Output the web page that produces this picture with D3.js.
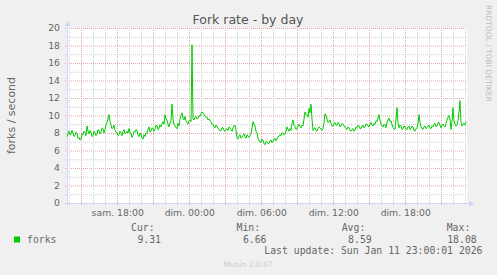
<!DOCTYPE html>
<html><head><meta charset="utf-8">
<script src="https://cdn.jsdelivr.net/npm/d3@7"></script>
<style>
html,body{margin:0;padding:0;background:#f0f0f0;}
svg{display:block;}
</style></head>
<body>
<svg id="chart" width="497" height="275"></svg>
<script>
// ---- data ----
const title = "Fork rate - by day";
const yAxisTitle = "forks / second";
const seriesName = "forks";
const startTime = "2026-01-10T13:48:40Z";
const endTime = "2026-01-11T23:08:40Z";
const stepSeconds = 300;
const forks = [
  7.6, 7.9, 8.2, 7.8, 7.9, 8.3, 8.0, 7.6, 7.7, 8.1, 7.9, 7.4, 7.5, 7.2, 7.3, 7.9, 7.8, 8.2, 8.1, 7.7,
  8.8, 8.2, 7.9, 8.3, 8.1, 7.6, 7.7, 8.2, 8.0, 7.7, 7.9, 8.4, 8.3, 7.9, 8.1, 8.6, 8.5, 8.0, 8.4, 8.9,
  9.2, 9.6, 10.1, 9.3, 8.9, 8.5, 8.6, 8.9, 8.3, 8.1, 8.0, 7.7, 7.8, 8.2, 8.0, 7.7, 8.2, 8.4, 7.9, 8.0,
  8.2, 8.0, 8.5, 8.1, 7.9, 7.5, 7.7, 8.2, 8.1, 8.4, 8.3, 7.8, 7.6, 8.0, 7.9, 7.4, 7.3, 7.8, 7.6, 8.0,
  8.0, 8.4, 8.7, 8.1, 8.2, 8.6, 8.5, 8.2, 8.4, 8.9, 8.8, 8.4, 8.5, 8.9, 8.7, 9.1, 9.3, 9.0, 10.1, 9.6,
  9.5, 9.0, 8.7, 9.2, 9.4, 11.3, 9.6, 9.0, 8.8, 8.6, 8.5, 9.1, 8.8, 9.6, 10.0, 10.3, 9.7, 9.5, 9.9, 9.4,
  9.2, 9.0, 9.4, 9.5, 9.3, 18.08, 9.6, 9.5, 9.8, 9.9, 9.6, 9.7, 10.0, 9.9, 10.2, 10.4, 10.3, 10.1, 9.9, 9.8,
  9.8, 9.5, 9.6, 9.4, 9.3, 9.0, 9.0, 8.7, 8.6, 8.9, 8.8, 8.5, 8.4, 8.2, 8.3, 8.6, 8.6, 8.3, 8.2, 8.4,
  8.5, 8.3, 8.7, 8.6, 8.4, 8.2, 8.6, 8.8, 8.9, 8.3, 7.5, 7.3, 7.6, 7.8, 7.4, 7.5, 7.7, 7.9, 7.6, 7.4,
  7.8, 7.6, 7.5, 7.7, 7.9, 8.6, 9.3, 9.0, 8.8, 8.2, 8.0, 7.4, 7.1, 7.0, 6.9, 7.3, 7.2, 6.8, 6.66, 7.0,
  7.0, 6.8, 6.8, 7.1, 7.2, 6.9, 7.0, 7.3, 7.4, 7.1, 7.3, 7.6, 7.6, 7.8, 7.7, 8.0, 8.0, 7.8, 7.9, 8.2,
  8.7, 8.4, 8.2, 8.5, 8.3, 9.1, 9.5, 8.9, 8.7, 8.4, 8.5, 8.8, 9.0, 8.7, 8.6, 8.9, 8.8, 9.6, 10.4, 10.1,
  10.1, 9.8, 10.8, 10.3, 11.3, 9.6, 8.3, 8.5, 8.6, 8.3, 8.2, 8.5, 8.7, 8.6, 8.4, 8.3, 8.5, 9.2, 10.2, 10.0,
  9.6, 9.2, 9.3, 9.5, 9.1, 8.8, 8.8, 9.1, 9.2, 8.9, 8.9, 9.2, 9.1, 8.7, 8.8, 9.1, 9.0, 8.8, 8.7, 8.5,
  8.4, 8.7, 8.6, 8.3, 8.2, 8.4, 8.5, 8.2, 8.3, 8.7, 8.6, 8.9, 8.8, 8.5, 8.5, 8.8, 8.9, 8.6, 8.7, 9.0,
  9.0, 8.8, 8.7, 9.0, 9.2, 8.9, 8.8, 9.1, 9.0, 9.4, 9.3, 9.7, 10.1, 9.4, 9.0, 8.8, 8.7, 9.0, 8.9, 8.6,
  9.2, 9.5, 9.7, 9.3, 9.4, 9.0, 8.6, 8.5, 8.4, 9.6, 10.9, 9.2, 8.6, 8.9, 8.8, 8.4, 8.5, 8.8, 8.7, 8.4,
  8.4, 8.7, 8.8, 8.4, 8.5, 8.8, 8.7, 8.3, 8.2, 8.5, 8.6, 9.1, 10.1, 9.2, 8.7, 8.5, 8.4, 8.7, 8.8, 8.5,
  8.6, 8.8, 8.9, 8.6, 8.5, 8.8, 8.7, 9.0, 9.1, 8.7, 8.8, 9.2, 9.2, 8.9, 8.6, 8.9, 9.0, 8.8, 8.7, 9.1,
  9.5, 9.8, 10.0, 9.6, 8.4, 9.3, 10.9, 9.4, 9.0, 8.8, 8.9, 9.4, 10.4, 11.7, 9.2, 8.8, 9.0, 9.1, 8.9, 9.31
];
const yTicks = [0, 2, 4, 6, 8, 10, 12, 14, 16, 18, 20];
const xTickTimes = ["2026-01-10T18:00:00Z", "2026-01-11T00:00:00Z", "2026-01-11T06:00:00Z", "2026-01-11T12:00:00Z", "2026-01-11T18:00:00Z"];
const xTickLabels = ["sam. 18:00", "dim. 00:00", "dim. 06:00", "dim. 12:00", "dim. 18:00"];
const legendHeaders = ["Cur:", "Min:", "Avg:", "Max:"];
const legendValues = ["9.31", "6.66", "8.59", "18.08"];
const lastUpdate = "Last update: Sun Jan 11 23:00:01 2026";
const watermark = "RRDTOOL / TOBI OETIKER";
const footer = "Munin 2.0.67";

// ---- drawing ----
(function () {
const svg = d3.select("#chart");
const pL = 67, pR = 467, pT = 28, pB = 203;
const t0 = new Date(startTime), t1 = new Date(endTime);
const x = d3.scaleUtc().domain([t0, t1]).range([pL, pR]);
const y = d3.scaleLinear().domain([0, 20]).range([pB, pT]);

svg.append("rect").attr("width", 497).attr("height", 275).attr("fill", "#f0f0f0");
svg.append("rect").attr("x", pL).attr("y", pT).attr("width", pR - pL).attr("height", pB - pT).attr("fill", "#ffffff");

const g = svg.append("g");
const minorCol = "#cfcfcf", majorCol = "#e3a5a5";

// horizontal grid
const yMinor = d3.range(1, 20, 2);
yMinor.forEach(v => {
  g.append("line").attr("x1", pL - 2).attr("x2", pR).attr("y1", y(v) + 0.5).attr("y2", y(v) + 0.5)
    .attr("stroke", minorCol).attr("stroke-dasharray", "1,1").attr("stroke-width", 1);
});
yTicks.forEach(v => {
  if (v === 0) return;
  g.append("line").attr("x1", pL - 2).attr("x2", pR).attr("y1", y(v) + 0.5).attr("y2", y(v) + 0.5)
    .attr("stroke", majorCol).attr("stroke-dasharray", "1,1").attr("stroke-width", 1);
});

// vertical grid
const hours = d3.utcHour.range(t0, t1);
hours.forEach(h => {
  const major = h.getUTCHours() % 3 === 0;
  const xx = Math.round(x(h)) + 0.5;
  g.append("line").attr("x1", xx).attr("x2", xx).attr("y1", pT).attr("y2", pB + 3)
    .attr("stroke", major ? majorCol : minorCol).attr("stroke-dasharray", "1,1").attr("stroke-width", 1);
});

// axes
const axisCol = "#cfd6f8";
g.append("line").attr("x1", pL - 3).attr("x2", pR + 2).attr("y1", pB + 0.5).attr("y2", pB + 0.5).attr("stroke", axisCol);
g.append("line").attr("x1", pL + 0.5).attr("x2", pL + 0.5).attr("y1", pB + 3).attr("y2", pT - 2).attr("stroke", axisCol);
g.append("path").attr("d", `M${pR + 2},${pB - 2.5} L${pR + 7},${pB + 0.5} L${pR + 2},${pB + 3.5} Z`).attr("fill", axisCol);
g.append("path").attr("d", `M${pL - 2.5},${pT - 2} L${pL + 0.5},${pT - 7} L${pL + 3.5},${pT - 2} Z`).attr("fill", axisCol);

// series line
const line = d3.line()
  .x((d, i) => x(new Date(t0.getTime() + i * stepSeconds * 1000)))
  .y(d => y(d));
svg.append("path").datum(forks).attr("d", line).attr("fill", "none")
  .attr("stroke", "#00cc00").attr("stroke-width", 1).attr("stroke-linejoin", "round");

// y tick labels
const fontSans = "'DejaVu Sans', sans-serif";
const fontMono = "'DejaVu Sans Mono', monospace";
yTicks.forEach(v => {
  svg.append("text").attr("x", 60).attr("y", y(v) + 3.4).attr("text-anchor", "end")
    .attr("font-family", fontSans).attr("font-size", 9.3).attr("fill", "#666").text(v);
});
// x tick labels
xTickTimes.forEach((t, i) => {
  svg.append("text").attr("x", x(new Date(t)) + 0.5).attr("y", 216).attr("text-anchor", "middle")
    .attr("font-family", fontSans).attr("font-size", 9.3).attr("fill", "#666").text(xTickLabels[i]);
});

// title
svg.append("text").attr("x", 248).attr("y", 24).attr("text-anchor", "middle")
  .attr("font-family", fontSans).attr("font-size", 12.5).attr("fill", "#555").text(title);
// y axis title
svg.append("text").attr("transform", `translate(14.5,${(pT + pB) / 2}) rotate(-90)`).attr("text-anchor", "middle")
  .attr("font-family", fontSans).attr("font-size", 11).attr("fill", "#666").text(yAxisTitle);
// watermark
svg.append("text").attr("transform", "translate(485.5,5) rotate(90)").attr("text-anchor", "start")
  .attr("font-family", fontSans).attr("font-size", 7.5).attr("fill", "#bdbdbd").text(watermark);

// legend
svg.append("rect").attr("x", 14).attr("y", 236.5).attr("width", 6).attr("height", 6).attr("fill", "#00cc00");
svg.append("text").attr("x", 27).attr("y", 242.5).attr("font-family", fontMono).attr("font-size", 9.8).attr("fill", "#666").text(seriesName);
const headerX = [131, 236.5, 341.7, 446.7];
const valueX = [161, 266.5, 371.7, 476.7];
legendHeaders.forEach((h, i) => {
  svg.append("text").attr("x", headerX[i]).attr("y", 231).attr("font-family", fontMono).attr("font-size", 9.8).attr("fill", "#666").text(h);
  svg.append("text").attr("x", valueX[i]).attr("y", 242.5).attr("text-anchor", "end").attr("font-family", fontMono).attr("font-size", 9.8).attr("fill", "#666").text(legendValues[i]);
});
svg.append("text").attr("x", 482.5).attr("y", 254).attr("text-anchor", "end").attr("font-family", fontMono).attr("font-size", 9.8).attr("fill", "#666").text(lastUpdate);
svg.append("text").attr("x", 248).attr("y", 267).attr("text-anchor", "middle").attr("font-family", fontSans).attr("font-size", 7.5).attr("fill", "#cccccc").text(footer);
})();
</script>
</body></html>
